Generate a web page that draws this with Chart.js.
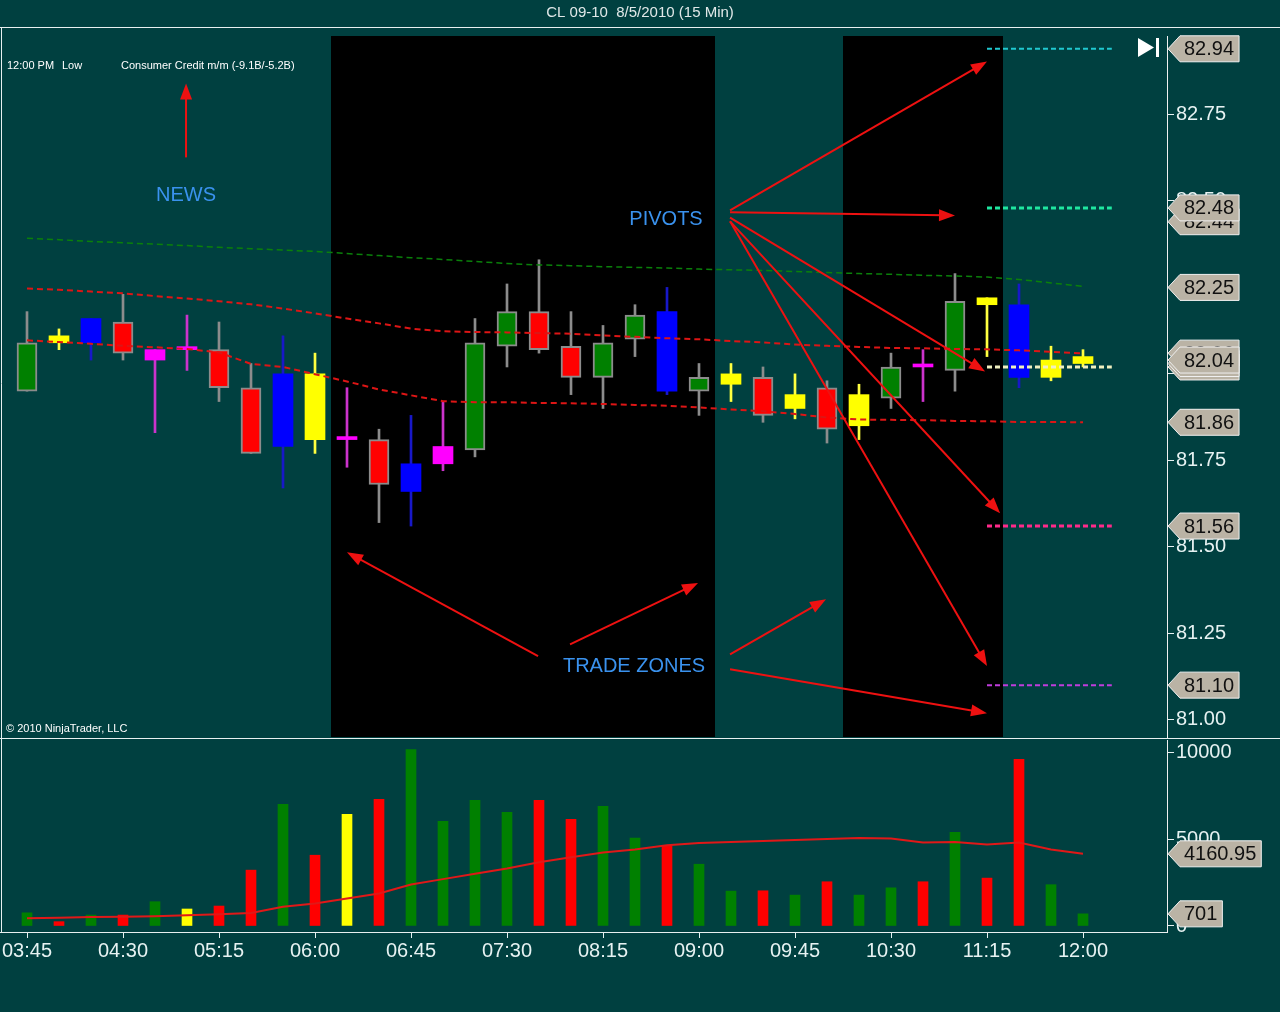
<!DOCTYPE html>
<html>
<head>
<meta charset="utf-8">
<title>CL 09-10 8/5/2010 (15 Min)</title>
<script src="https://cdn.jsdelivr.net/npm/chart.js@4.4.1/dist/chart.umd.min.js"></script>
<style>
  html, body { margin: 0; padding: 0; background: #004040; overflow: hidden; }
  #wrap { position: relative; width: 1280px; height: 1012px; }
  canvas { position: absolute; left: 0; }
  #price { top: 0; }
  #volume { top: 738px; }
</style>
</head>
<body>
<div id="wrap">
  <canvas id="price" width="1280" height="740"></canvas>
  <canvas id="volume" width="1280" height="274"></canvas>
</div>
<script>
// 15 min bars, CL 09-10, 8/5/2010
const times = ["03:45","04:00","04:15","04:30","04:45","05:00","05:15","05:30","05:45","06:00",
               "06:15","06:30","06:45","07:00","07:15","07:30","07:45","08:00","08:15","08:30",
               "08:45","09:00","09:15","09:30","09:45","10:00","10:15","10:30","10:45","11:00",
               "11:15","11:30","11:45","12:00"];
const opens  = [81.95,82.09,82.16,82.15,82.07,82.07,82.07,81.96,82.00,82.00,
                81.81,81.81,81.74,81.74,81.78,82.08,82.18,82.08,81.99,82.10,
                82.18,81.95,82.00,81.99,81.94,81.96,81.94,81.93,82.02,82.01,
                82.22,82.20,82.04,82.05];
const highs  = [82.18,82.13,82.16,82.23,82.07,82.17,82.15,82.03,82.11,82.06,
                81.96,81.84,81.88,81.92,82.16,82.26,82.33,82.18,82.14,82.20,
                82.25,82.03,82.03,82.02,82.00,81.98,81.97,82.06,82.07,82.29,
                82.22,82.26,82.08,82.07];
const lows   = [81.95,82.07,82.04,82.04,81.83,82.01,81.92,81.77,81.67,81.77,
                81.73,81.57,81.56,81.72,81.76,82.02,82.06,81.94,81.90,82.05,
                81.94,81.88,81.92,81.86,81.87,81.80,81.81,81.90,81.92,81.95,
                82.05,81.96,81.98,82.02];
const closes = [82.09,82.11,82.09,82.06,82.04,82.07,81.96,81.77,81.79,81.81,
                81.81,81.68,81.66,81.79,82.09,82.18,82.07,81.99,82.09,82.17,
                81.95,81.99,81.97,81.88,81.90,81.84,81.85,82.02,82.02,82.21,
                82.20,81.99,81.99,82.03];
const candleKinds = ["green","yellow","blue","red","magenta","magenta","red","red","blue","yellow",
                     "magenta","red","blue","magenta","green","green","red","red","green","green",
                     "blue","green","yellow","red","yellow","red","yellow","green","magenta","green",
                     "yellow","blue","yellow","yellow"];

const maSlow  = [82.392,82.388,82.383,82.379,82.375,82.371,82.366,82.362,82.358,82.354,
                 82.348,82.342,82.336,82.331,82.325,82.319,82.315,82.313,82.310,82.308,
                 82.306,82.303,82.301,82.299,82.296,82.293,82.290,82.288,82.285,82.283,
                 82.280,82.273,82.263,82.253];
const maUpper = [82.247,82.243,82.238,82.233,82.225,82.218,82.210,82.201,82.189,82.175,
                 82.160,82.146,82.131,82.123,82.121,82.120,82.118,82.116,82.111,82.107,
                 82.103,82.100,82.095,82.091,82.085,82.081,82.078,82.075,82.074,82.072,
                 82.071,82.068,82.064,82.059];
const maLower = [82.097,82.092,82.087,82.081,82.077,82.072,82.062,82.029,82.020,81.999,
                 81.978,81.955,81.938,81.921,81.918,81.918,81.916,81.915,81.913,81.910,
                 81.908,81.903,81.897,81.892,81.884,81.874,81.868,81.867,81.866,81.864,
                 81.863,81.861,81.861,81.860];

const pivotLevels = [82.94, 82.48, 82.02, 81.56, 81.10];
const pivotStartBar = 30, pivotEndBar = 33.9;
const tradeZones = [[10, 21], [26, 30]];   // first bar, last bar

const volumes = [760,250,630,630,1400,980,1150,3220,7010,4080,
                 6440,7300,10170,6030,7240,6550,7240,6150,6900,5060,
                 4620,3560,2010,2030,1780,2550,1780,2200,2550,5400,
                 2760,9600,2380,701];
const volumeKinds = ["green","red","green","red","green","yellow","red","red","green","red",
                     "yellow","red","green","green","green","green","red","red","green","green",
                     "red","green","green","red","green","red","green","green","red","green",
                     "red","red","green","green"];
const volumeMA = [440,479,517,536,556,613,670,747,1111,1302,
                  1590,1877,2394,2701,3008,3314,3670,3966,4234,4406,
                  4655,4789,4847,4904,4962,5019,5077,5038,4808,4847,
                  4693,4808,4406,4160.95];

const priceTicks = [81.00, 81.25, 81.50, 81.75, 82.00, 82.25, 82.50, 82.75];
const volumeTicks = [0, 5000, 10000];
const timeTickBars = [0, 3, 6, 9, 12, 15, 18, 21, 24, 27, 30, 33];
const priceTags = [82.94, 82.44, 82.48, 82.25, 82.06, 82.02, 82.03, 82.04, 81.86, 81.56, 81.10];

// hand drawn notes, in bar / price units
const arrows = [
  [4.97, 82.626, 4.97, 82.840],
  [21.97, 82.473, 30.0, 82.903],
  [21.97, 82.467, 29.0, 82.458],
  [21.97, 82.452, 29.94, 82.007],
  [21.97, 82.441, 30.41, 81.597],
  [21.97, 82.441, 30.0, 81.155],
  [15.97, 81.184, 10.0, 81.484],
  [16.97, 81.218, 20.97, 81.395],
  [21.97, 81.189, 24.97, 81.348],
  [21.97, 81.146, 30.0, 81.019]
];
const notes = [
  ["NEWS", 4.97, 82.516],
  ["PIVOTS", 19.97, 82.447],
  ["TRADE ZONES", 18.97, 81.154]
];

const X_MIN = -0.78125, X_MAX = 35.625;
const PRICE_MIN = 80.95, PRICE_MAX = 82.977;
const VOL_MIN = -346, VOL_MAX = 10720;

const FONT = '"Liberation Sans", Arial, sans-serif';
const TEXT = "#e6f2f2";
const fills = { green: "#008000", red: "#ff0000", blue: "#0000ff", yellow: "#ffff00", magenta: "#ff00ff" };
const wicks = { green: "#8c8c8c", red: "#8c8c8c", blue: "#1818c8", yellow: "#ffff40", magenta: "#cc33cc" };
const pivotColors = ["#20c8d0", "#1fe6a0", "#f0f0c0", "#ff2a8a", "#c03cdc"];

Chart.defaults.font.family = FONT;

function drawTag(ctx, xEdge, y, text) {
  ctx.font = "20px " + FONT;
  const w = ctx.measureText(text).width;
  const x0 = xEdge + 1, x1 = x0 + 12, x2 = x1 + 4 + w + 5, h = 26;
  ctx.beginPath();
  ctx.moveTo(x0, y);
  ctx.lineTo(x1, y - h / 2);
  ctx.lineTo(x2, y - h / 2);
  ctx.lineTo(x2, y + h / 2);
  ctx.lineTo(x1, y + h / 2);
  ctx.closePath();
  ctx.fillStyle = "#bab3a5";
  ctx.fill();
  ctx.strokeStyle = "#f0f0f0";
  ctx.lineWidth = 1;
  ctx.stroke();
  ctx.fillStyle = "#111111";
  ctx.textAlign = "left";
  ctx.textBaseline = "middle";
  ctx.fillText(text, x1 + 4, y + 1);
}

function drawArrow(ctx, x1, y1, x2, y2) {
  const a = Math.atan2(y2 - y1, x2 - x1);
  const c = Math.cos(a), s = Math.sin(a);
  const len = 16, half = 6;
  ctx.beginPath();
  ctx.moveTo(x1, y1);
  ctx.lineTo(x2 - c * len * 0.7, y2 - s * len * 0.7);
  ctx.stroke();
  ctx.beginPath();
  ctx.moveTo(x2, y2);
  ctx.lineTo(x2 - c * len + s * half, y2 - s * len - c * half);
  ctx.lineTo(x2 - c * len - s * half, y2 - s * len + c * half);
  ctx.closePath();
  ctx.fill();
}

const zonesPlugin = {
  id: "zones",
  beforeDatasetsDraw(chart) {
    const { ctx, chartArea, scales } = chart;
    ctx.save();
    ctx.fillStyle = "#000000";
    tradeZones.forEach(([first, last]) => {
      const a = scales.x.getPixelForValue(first - 0.5);
      const b = scales.x.getPixelForValue(last + 0.5);
      ctx.fillRect(a, chartArea.top, b - a, chartArea.bottom - chartArea.top);
    });
    ctx.restore();
  }
};

const priceOverlay = {
  id: "priceOverlay",
  afterDraw(chart) {
    const { ctx, chartArea, scales } = chart;
    const x = scales.x, y = scales.y;
    ctx.save();

    // frame
    ctx.strokeStyle = "#e8f0f0";
    ctx.lineWidth = 1;
    ctx.beginPath();
    ctx.moveTo(0, 27.5); ctx.lineTo(chart.width, 27.5);
    ctx.moveTo(1.5, 27.5); ctx.lineTo(1.5, chart.height);
    ctx.moveTo(0, 738.5); ctx.lineTo(chart.width, 738.5);
    ctx.stroke();

    ctx.fillStyle = "#e0e8e8";
    ctx.font = "15px " + FONT;
    ctx.textAlign = "center";
    ctx.textBaseline = "middle";
    ctx.fillText("CL 09-10  8/5/2010 (15 Min)", chart.width / 2, 13);

    ctx.fillStyle = "#ffffff";
    ctx.font = "11px " + FONT;
    ctx.textAlign = "left";
    ctx.fillText("12:00 PM", chartArea.left + 5, 66);
    ctx.fillText("Low", chartArea.left + 60, 66);
    ctx.fillText("Consumer Credit m/m (-9.1B/-5.2B)", chartArea.left + 119, 66);
    ctx.fillText("\u00a9 2010 NinjaTrader, LLC", chartArea.left + 4, 729);

    // go-to-end button
    const r = chartArea.right, t = chartArea.top;
    ctx.beginPath();
    ctx.moveTo(r - 29, t + 2); ctx.lineTo(r - 29, t + 21); ctx.lineTo(r - 13, t + 11.5);
    ctx.closePath();
    ctx.fill();
    ctx.fillRect(r - 11, t + 2, 3, 19);

    // notes
    ctx.strokeStyle = "#ee1111";
    ctx.fillStyle = "#ee1111";
    ctx.lineWidth = 2;
    arrows.forEach(([b1, p1, b2, p2]) => {
      drawArrow(ctx, x.getPixelForValue(b1), y.getPixelForValue(p1),
                x.getPixelForValue(b2), y.getPixelForValue(p2));
    });
    ctx.fillStyle = "#3a92ee";
    ctx.font = "20px " + FONT;
    ctx.textAlign = "center";
    notes.forEach(([text, b, p]) => {
      ctx.fillText(text, x.getPixelForValue(b), y.getPixelForValue(p));
    });

    priceTags.forEach(v => drawTag(ctx, chartArea.right, y.getPixelForValue(v), v.toFixed(2)));
    ctx.restore();
  }
};

const volumeOverlay = {
  id: "volumeOverlay",
  afterDraw(chart) {
    const { ctx, chartArea, scales } = chart;
    ctx.save();
    ctx.strokeStyle = "#e8f0f0";
    ctx.lineWidth = 1;
    ctx.beginPath();
    ctx.moveTo(1.5, 0); ctx.lineTo(1.5, chartArea.bottom + 0.5);
    ctx.moveTo(0, chartArea.bottom + 0.5); ctx.lineTo(chartArea.right, chartArea.bottom + 0.5);
    ctx.stroke();
    const last = volumes.length - 1;
    drawTag(ctx, chartArea.right, scales.y.getPixelForValue(volumeMA[last]), volumeMA[last].toFixed(2));
    drawTag(ctx, chartArea.right, scales.y.getPixelForValue(volumes[last]), String(volumes[last]));
    ctx.restore();
  }
};

function rightAxis(min, max, tickValues, fmt) {
  return {
    position: "right",
    min: min,
    max: max,
    afterBuildTicks: axis => { axis.ticks = tickValues.map(v => ({ value: v })); },
    afterFit: axis => { axis.width = 113; axis.paddingTop = 0; axis.paddingBottom = 0; },
    grid: { drawOnChartArea: false, drawTicks: true, tickLength: 7, color: TEXT },
    border: { display: true, color: "#f0f0f0", width: 1 },
    ticks: { color: TEXT, font: { size: 20 }, padding: 2, callback: fmt }
  };
}

const bars = times.map((t, i) => i);

new Chart(document.getElementById("price"), {
  type: "bar",
  data: {
    datasets: [
      ...pivotLevels.map((p, k) => ({
        type: "line",
        data: [{ x: pivotStartBar, y: p }, { x: pivotEndBar, y: p }],
        borderColor: pivotColors[k],
        borderWidth: k === 0 || k === 4 ? 2 : 3,
        borderDash: [5, 3],
        pointRadius: 0,
        order: 1
      })),
      {
        type: "line",
        data: bars.map(i => ({ x: i, y: maSlow[i] })),
        borderColor: "#0a800a",
        borderWidth: 1.5,
        borderDash: [6, 4],
        pointRadius: 0,
        order: 2
      },
      {
        type: "line",
        data: bars.map(i => ({ x: i, y: maUpper[i] })),
        borderColor: "#dd1515",
        borderWidth: 2,
        borderDash: [6, 4],
        pointRadius: 0,
        order: 2
      },
      {
        type: "line",
        data: bars.map(i => ({ x: i, y: maLower[i] })),
        borderColor: "#dd1515",
        borderWidth: 2,
        borderDash: [6, 4],
        pointRadius: 0,
        order: 2
      },
      {
        data: bars.map(i => ({ x: i, y: [opens[i], closes[i]] })),
        backgroundColor: candleKinds.map(k => fills[k]),
        borderColor: candleKinds.map(k => (k === "green" || k === "red") ? "#8c8c8c" : fills[k]),
        borderWidth: candleKinds.map(k => (k === "green" || k === "red") ? 2 : 0),
        borderSkipped: false,
        barThickness: 20,
        minBarLength: 3,
        grouped: false,
        order: 4
      },
      {
        data: bars.map(i => ({ x: i, y: [lows[i], highs[i]] })),
        backgroundColor: candleKinds.map(k => wicks[k]),
        barThickness: 2,
        grouped: false,
        order: 5
      }
    ]
  },
  options: {
    responsive: false,
    animation: false,
    layout: { padding: { top: 36, left: 2, right: 0, bottom: 3 } },
    plugins: { legend: { display: false }, tooltip: { enabled: false } },
    scales: {
      x: { type: "linear", min: X_MIN, max: X_MAX, offset: false, display: false },
      y: rightAxis(PRICE_MIN, PRICE_MAX, priceTicks, v => v.toFixed(2))
    }
  },
  plugins: [zonesPlugin, priceOverlay]
});

new Chart(document.getElementById("volume"), {
  type: "bar",
  data: {
    datasets: [
      {
        type: "line",
        data: bars.map(i => ({ x: i, y: volumeMA[i] })),
        borderColor: "#e01818",
        borderWidth: 2,
        pointRadius: 0,
        order: 1
      },
      {
        data: bars.map(i => ({ x: i, y: volumes[i] })),
        backgroundColor: volumeKinds.map(k => fills[k]),
        barThickness: 10,
        grouped: false,
        order: 2
      }
    ]
  },
  options: {
    responsive: false,
    animation: false,
    layout: { padding: { top: 2, left: 2, right: 0, bottom: 0 } },
    plugins: { legend: { display: false }, tooltip: { enabled: false } },
    scales: {
      x: {
        type: "linear",
        min: X_MIN,
        max: X_MAX,
        offset: false,
        afterBuildTicks: axis => { axis.ticks = timeTickBars.map(v => ({ value: v })); },
        afterFit: axis => { axis.height = 80; axis.paddingLeft = 0; axis.paddingRight = 0; },
        grid: { offset: false, drawOnChartArea: false, drawTicks: true, tickLength: 6, color: TEXT },
        border: { display: true, color: "#f0f0f0" },
        ticks: { color: TEXT, font: { size: 20 }, padding: 1, autoSkip: false, maxRotation: 0,
                 callback: v => times[v] }
      },
      y: rightAxis(VOL_MIN, VOL_MAX, volumeTicks, v => String(v))
    }
  },
  plugins: [volumeOverlay]
});
</script>
</body>
</html>
